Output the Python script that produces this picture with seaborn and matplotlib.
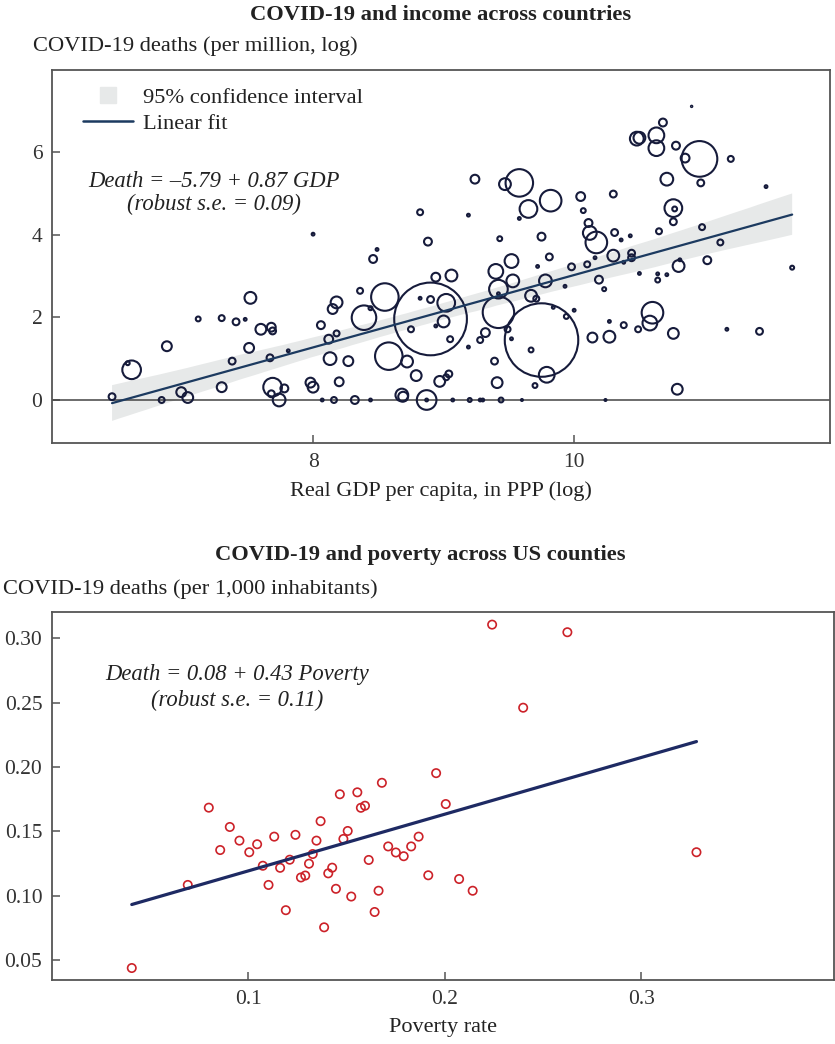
import numpy as np
import pandas as pd
import matplotlib
matplotlib.use("Agg")
import matplotlib.pyplot as plt
from matplotlib.lines import Line2D
import seaborn as sns

# ---------------- data: countries ----------------
gdp = [6.46, 6.61, 6.58, 6.88, 6.84, 6.99, 7.04, 7.12, 7.30, 7.41, 7.48, 7.52, 7.60, 7.68, 7.69,
       7.51, 7.38, 7.30, 7.67, 7.81, 7.69, 7.68, 7.74, 7.78, 7.98, 8.00, 8.06, 8.00, 8.07, 8.16,
       8.32, 8.44, 8.18, 8.12, 8.13, 8.27, 8.20, 8.18, 8.15, 8.36, 8.46, 8.49, 8.39, 8.44, 8.55,
       8.58, 8.72, 8.79, 8.68, 8.69, 8.87, 8.87, 8.90, 8.82, 8.90, 8.75, 8.94, 8.94, 9.00, 9.02,
       8.97, 9.02, 9.04, 9.05, 9.06, 8.82, 8.88, 9.07, 9.19, 9.19, 9.20, 9.24, 9.58, 9.47, 9.82,
       9.65, 9.58, 9.43, 9.75, 9.81, 9.52, 9.40, 9.72, 9.53, 9.78, 9.93, 9.42, 9.42, 9.67, 9.71,
       9.42, 9.49, 9.32, 9.28, 9.52, 9.75, 9.67, 9.39, 9.79, 9.70, 9.41, 9.28, 9.30, 9.44, 9.60,
       9.84, 9.94, 10.00, 10.14, 10.27, 10.27, 9.98, 10.05, 10.07, 10.11, 10.12, 10.17, 10.10, 10.16, 10.19,
       10.23, 10.30, 10.30, 10.31, 10.24, 10.36, 10.43, 10.44, 10.44, 10.38, 10.38, 10.49, 10.60, 10.58, 10.50,
       10.64, 10.64, 10.71, 10.80, 10.81, 10.65, 10.76, 10.77, 10.76, 10.98, 11.02, 11.12, 10.76, 10.79, 11.17,
       11.42, 11.67, 11.47, 11.20, 10.97, 10.71, 10.96, 10.85, 10.78, 10.63, 10.63, 10.48, 10.50, 10.68, 10.90]
deaths = [0.08, 0.73, 0.89, 1.30, 0.00, 0.19, 0.06, 1.96, 1.98, 1.89, 1.95, 2.47, 1.71, 1.76, 1.67,
          1.26, 0.94, 0.31, 1.02, 1.19, 0.31, 0.15, 0.00, 0.28, 0.42, 0.31, 1.81, 4.01, 0.00, 0.00,
          0.00, 0.00, 1.61, 1.47, 1.00, 0.94, 0.44, 2.36, 2.20, 2.64, 3.41, 3.64, 1.99, 2.22, 2.49,
          1.06, 0.93, 0.59, 0.12, 0.08, 0.00, 0.00, 1.96, 2.46, 2.43, 1.71, 1.79, 2.97, 1.90, 2.35,
          0.45, 0.55, 0.63, 1.47, 3.01, 4.54, 3.83, 0.00, 4.47, 1.28, 0.00, 5.34, 5.25, 5.22, 4.82,
          4.62, 4.39, 3.90, 3.95, 3.46, 3.36, 3.11, 3.23, 2.88, 2.88, 2.75, 2.68, 2.57, 2.52, 2.45,
          2.12, 1.71, 1.63, 1.45, 1.48, 1.45, 1.21, 0.94, 0.61, 0.35, 0.42, 0.00, 0.00, 0.00, 0.00,
          2.24, 2.02, 2.17, 1.51, 1.53, 1.90, 3.22, 4.92, 4.58, 4.28, 4.04, 3.81, 3.28, 3.44, 2.91,
          2.68, 4.98, 3.49, 4.05, 0.00, 3.87, 3.97, 3.55, 3.44, 3.33, 1.81, 1.71, 2.11, 1.86, 3.06,
          3.05, 2.90, 3.03, 3.24, 3.39, 4.08, 4.64, 4.62, 4.31, 4.18, 3.38, 3.81, 1.61, 0.26, 1.71,
          1.66, 3.20, 5.16, 5.83, 5.25, 5.34, 5.83, 5.85, 6.15, 6.40, 6.09, 6.32, 6.34, 6.71, 7.10]
pop = [12, 90, 4, 25, 9, 25, 30, 6, 9, 12, 2, 36, 30, 20, 12,
       25, 12, 25, 12, 2, 90, 12, 42, 16, 25, 30, 16, 2, 2, 9,
       16, 2, 9, 20, 42, 25, 20, 36, 25, 9, 16, 2, 156, 4, 196,
       196, 36, 30, 42, 25, 100, 2, 1370, 2, 12, 9, 2, 20, 36, 81,
       30, 9, 12, 9, 36, 9, 16, 2, 2, 2, 4, 20, 196, 36, 121,
       81, 2, 6, 16, 12, 49, 56, 2, 42, 42, 2, 90, 2, 36, 9,
       256, 9, 20, 9, 2, 1400, 6, 12, 64, 6, 30, 2, 2, 6, 1,
       2, 6, 2, 25, 36, 2, 12, 20, 6, 16, 49, 121, 9, 2, 16,
       4, 12, 36, 12, 1, 2, 2, 12, 12, 2, 9, 9, 121, 56, 2,
       2, 6, 2, 36, 2, 9, 81, 6, 12, 9, 16, 9, 30, 30, 2,
       12, 4, 2, 9, 12, 42, 330, 20, 16, 64, 64, 49, 36, 16, 0.5]

# ---------------- data: US states ----------------
poverty = [0.0406, 0.0691, 0.0798, 0.0905, 0.0856, 0.0954, 0.1004, 0.1044, 0.1073, 0.1102,
           0.1131, 0.1161, 0.1190, 0.1210, 0.1239, 0.1267, 0.1289, 0.1308, 0.1327, 0.1346,
           0.1367, 0.1385, 0.1406, 0.1426, 0.1445, 0.1465, 0.1483, 0.1505, 0.1523, 0.1554,
           0.1572, 0.1593, 0.1612, 0.1642, 0.1662, 0.1679, 0.1711, 0.1750, 0.1790, 0.1828,
           0.1866, 0.1915, 0.1955, 0.2004, 0.2072, 0.2141, 0.2240, 0.2398, 0.2623, 0.3280]
deaths_us = [0.044, 0.1085, 0.1685, 0.1535, 0.1356, 0.1429, 0.1339, 0.1401, 0.1234, 0.1085,
             0.146, 0.1218, 0.0889, 0.1281, 0.1474, 0.1143, 0.1158, 0.125, 0.1325, 0.1429,
             0.158, 0.0756, 0.1175, 0.1219, 0.1055, 0.1789, 0.1442, 0.1504, 0.0995, 0.1804,
             0.1684, 0.170, 0.1279, 0.0875, 0.104, 0.1878, 0.1384, 0.1337, 0.1308, 0.1384,
             0.146, 0.116, 0.1953, 0.1713, 0.1131, 0.104, 0.3106, 0.2461, 0.3047, 0.1339]

top_xticks = [8, 10]
top_yticks = [0, 2, 4, 6]
bot_xticks = [0.1, 0.2, 0.3]
bot_yticks = [0.05, 0.10, 0.15, 0.20, 0.25, 0.30]

df1 = pd.DataFrame({"gdp": gdp, "deaths": deaths, "pop": pop})
df2 = pd.DataFrame({"poverty": poverty, "deaths": deaths_us})

# ---------------- style ----------------
sns.set_style("ticks")
plt.rcParams["font.family"] = ["Liberation Serif", "DejaVu Serif"]
plt.rcParams["font.size"] = 16
plt.rcParams["text.color"] = "#222222"
plt.rcParams["axes.labelcolor"] = "#222222"

W, H = 835, 1044
fig = plt.figure(figsize=(W / 100, H / 100), dpi=100)
ax1 = fig.add_axes([52 / W, 1 - 443 / H, 778 / W, 373 / H])
ax2 = fig.add_axes([52 / W, 1 - 980 / H, 782 / W, 368 / H])

bubble = "#161b3b"
fitc = "#1c3a60"
band = "#e7e9e9"

# ---------------- top panel ----------------
ax1.axhline(0, color="#444444", lw=1.1, zorder=1)
sns.regplot(data=df1, x="gdp", y="deaths", scatter=False, ci=95, n_boot=1000, seed=1,
            ax=ax1, color=fitc, line_kws=dict(lw=1.6, zorder=4))
for coll in ax1.collections:
    coll.set_facecolor(band)
    coll.set_alpha(1)
    coll.set_zorder(0.5)
    coll.set_edgecolor("none")

pmin, pmax = min(pop), max(pop)
sns.scatterplot(data=df1, x="gdp", y="deaths", size="pop", sizes=(2.0 * pmin, 2.0 * pmax),
                size_norm=(pmin, pmax), legend=False, ax=ax1, zorder=3)
sc = ax1.collections[-1]
sc.set_facecolor("none")
sc.set_edgecolor(bubble)
sc.set_linewidth(1.5)

ax1.set_xlim(6.0, 11.96)
ax1.set_ylim(-1.04, 7.98)
ax1.set_xticks(top_xticks)
ax1.set_yticks(top_yticks)
ax1.set_xlabel("Real GDP per capita, in PPP (log)", labelpad=7)
ax1.set_ylabel("")

ax1.text(7.24, 5.28, "Death = \u20135.79 + 0.87 GDP", style="italic", ha="center", va="center",
         fontsize=16.3)
ax1.text(7.24, 4.74, "(robust s.e. = 0.09)", style="italic", ha="center", va="center",
         fontsize=16.3)

handles = [Line2D([], [], marker="s", linestyle="none", markersize=11, color=band),
           Line2D([], [], color=fitc, lw=1.8)]
ax1.legend(handles, ["95% confidence interval", "Linear fit"], loc="upper left",
           bbox_to_anchor=(0.04, 0.955), frameon=False, borderaxespad=0, borderpad=0,
           handlelength=2.2, handletextpad=0.45, labelspacing=0.25, fontsize=16.2)

# ---------------- bottom panel ----------------
sns.scatterplot(data=df2, x="poverty", y="deaths", ax=ax2, s=36, zorder=3, legend=False)
sc2 = ax2.collections[-1]
sc2.set_facecolor("none")
sc2.set_edgecolor("#cc2229")
sc2.set_linewidth(1.2)
sns.regplot(data=df2, x="poverty", y="deaths", scatter=False, ci=None, ax=ax2,
            color="#1e2a63", line_kws=dict(lw=2.3, zorder=4))

ax2.set_xlim(0.0, 0.398)
ax2.set_ylim(0.0347, 0.3204)
ax2.set_xticks(bot_xticks)
ax2.set_xticklabels(["0.1", "0.2", "0.3"])
ax2.set_yticks(bot_yticks)
ax2.set_yticklabels([f"{v:.2f}" for v in bot_yticks])
ax2.set_xlabel("Poverty rate", labelpad=7)
ax2.set_ylabel("")
ax2.text(0.094, 0.2715, "Death = 0.08 + 0.43 Poverty", style="italic", ha="center", va="center",
         fontsize=16.3)
ax2.text(0.094, 0.252, "(robust s.e. = 0.11)", style="italic", ha="center", va="center",
         fontsize=16.3)

for ax in (ax1, ax2):
    for sp in ax.spines.values():
        sp.set_visible(True)
        sp.set_color("#555555")
        sp.set_linewidth(1.3)
    ax.tick_params(direction="in", length=6, width=1.1, color="#555555",
                   labelsize=15.5, labelcolor="#333333", pad=7)

# titles and axis captions
fig.text(441 / W, 1 - 15 / H, "COVID-19 and income across countries", ha="center", va="center",
         fontweight="bold", fontsize=16.2)
fig.text(33 / W, 1 - 46 / H, "COVID-19 deaths (per million, log)", ha="left", va="center", fontsize=16.2)
fig.text(420 / W, 1 - 555 / H, "COVID-19 and poverty across US counties", ha="center", va="center",
         fontweight="bold", fontsize=16.2)
fig.text(3 / W, 1 - 589 / H, "COVID-19 deaths (per 1,000 inhabitants)", ha="left", va="center", fontsize=16.2)

fig.savefig("out.png", dpi=100)
